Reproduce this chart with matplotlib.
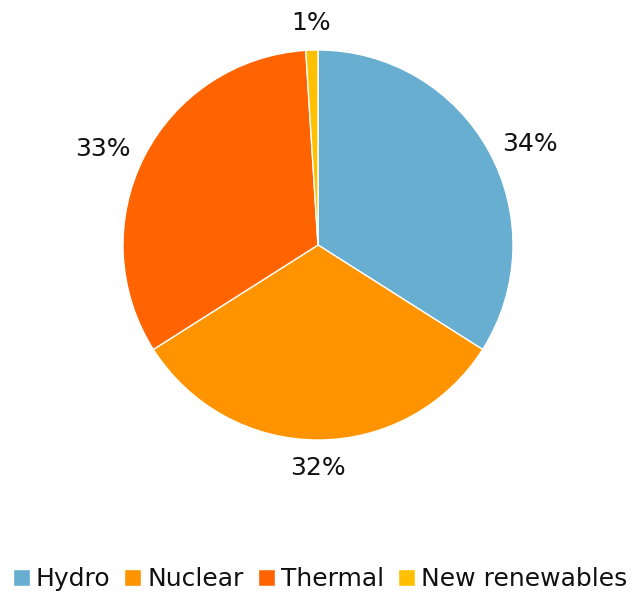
import matplotlib
matplotlib.use("Agg")
import matplotlib.pyplot as plt
import numpy as np

categories = ["Hydro", "Nuclear", "Thermal", "New renewables"]
values = [34, 32, 33, 1]
colors = ["#67AED0", "#FF9400", "#FF6400", "#FFC000"]

plt.rcParams['font.family'] = ['DejaVu Sans']

fig = plt.figure(figsize=(6.33, 5.94), dpi=100)
ax = fig.add_axes([123/633, 154/594, 390/633, 390/594])

wedges, _ = ax.pie(
    values, colors=colors, startangle=90, counterclock=False,
    wedgeprops=dict(edgecolor="white", linewidth=1),
    radius=1.0,
)
total = sum(values)
for w, v in zip(wedges, values):
    theta = np.deg2rad((w.theta1 + w.theta2) / 2)
    c, s = np.cos(theta), np.sin(theta)
    r = 1.08
    ha = 'left' if c > 0.3 else ('right' if c < -0.3 else 'center')
    va = 'bottom' if s > 0.7 else ('top' if s < -0.7 else 'center')
    ax.text(r * c, r * s, f"{100 * v / total:.0f}%", ha=ha, va=va,
            fontsize=18, color="#111111")

ax.set_xlim(-1, 1)
ax.set_ylim(-1, 1)
ax.set_aspect("equal")

fig.legend(wedges, categories, loc="center", bbox_to_anchor=(320/633, 1 - 579/594),
           ncol=4, frameon=False, fontsize=18, handlelength=0.68, handleheight=0.68,
           handletextpad=0.24, columnspacing=0.56, borderaxespad=0, borderpad=0,
           labelcolor="#111111")

fig.savefig("out.png", dpi=100)
